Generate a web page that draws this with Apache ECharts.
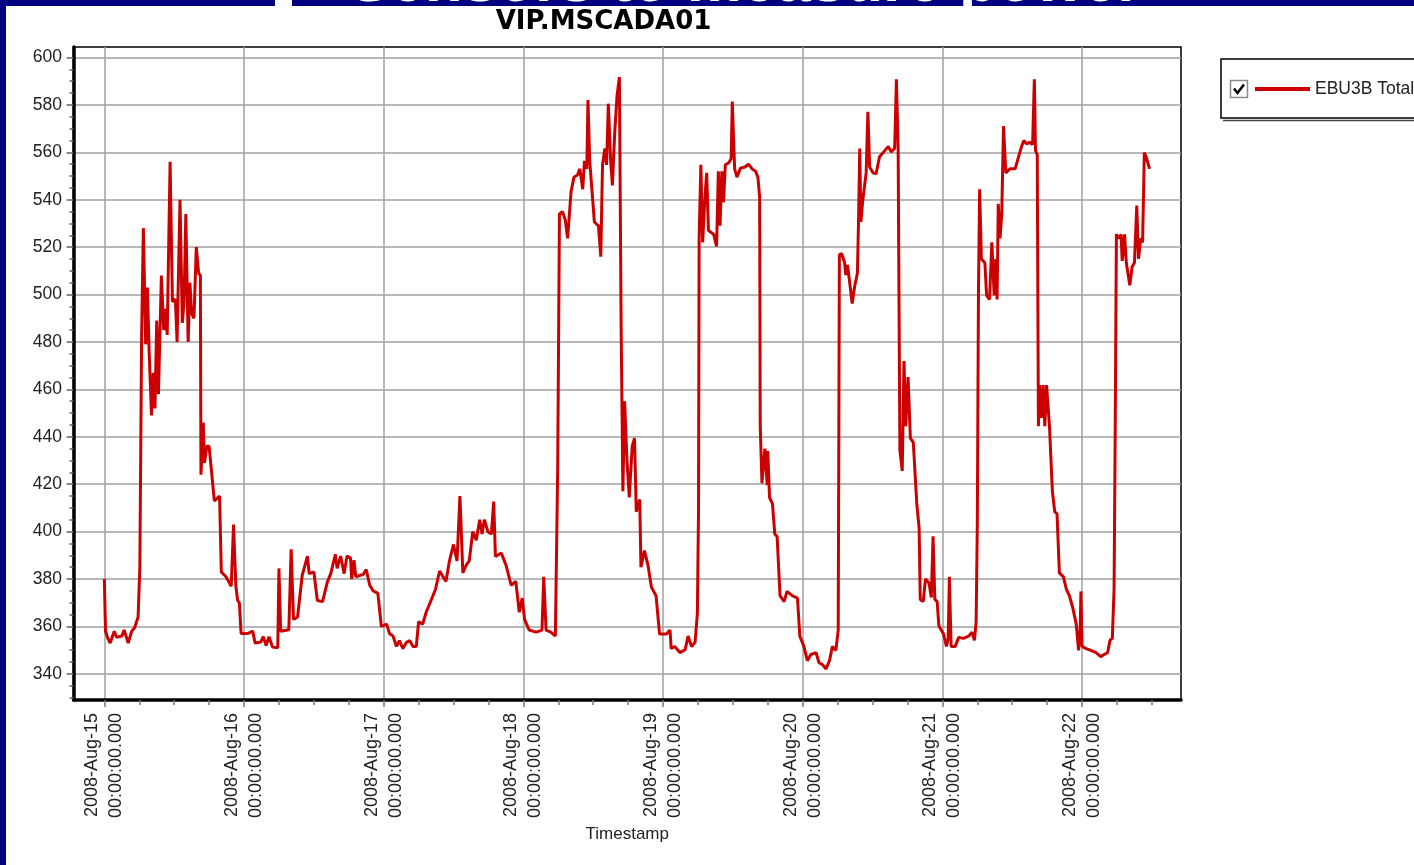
<!DOCTYPE html>
<html>
<head>
<meta charset="utf-8">
<script src="https://cdn.jsdelivr.net/npm/echarts@6/dist/echarts.min.js"></script>
<style>
  html, body { margin: 0; padding: 0; background: #ffffff; }
  #chart { width: 1414px; height: 865px; }
</style>
</head>
<body>
<div id="chart"></div>
<script>
// Chart texts
const SLIDE_HEADING = 'Sensors to measure power';
const CHART_TITLE = 'VIP.MSCADA01';
const SERIES_NAME = 'EBU3B Total';
const X_AXIS_NAME = 'Timestamp';
const DAY_LABELS = ['2008-Aug-15', '2008-Aug-16', '2008-Aug-17', '2008-Aug-18',
                    '2008-Aug-19', '2008-Aug-20', '2008-Aug-21', '2008-Aug-22'];
const TIME_LABEL = '00:00:00.000';
const Y_TICKS = [340, 360, 380, 400, 420, 440, 460, 480, 500, 520, 540, 560, 580, 600];

// Power readings per day: [hour of day, kW]
const aug15 = [[0,380],[0.2,358],[0.6,355],[1,353],[1.7,358],[2.1,355.5],[3,356],[3.4,358.5],[4.1,353],[4.7,358],[5.2,359.5],[5.8,364],[6.1,385],[6.4,482],[6.7,528],[7.1,479],[7.4,503],[7.7,476],[8.1,449],[8.4,467],[8.7,452],[9,489],[9.3,458],[9.8,508],[10.2,485],[10.5,494],[10.8,483],[11.3,556],[11.7,497],[12.2,498],[12.5,480],[13,540],[13.4,488],[13.7,497],[14,534],[14.4,480],[14.7,505],[15,492],[15.4,490],[15.8,520],[16.2,509],[16.5,508],[16.6,424],[17,446],[17.2,429],[17.6,436],[18,436],[18.9,413],[19.8,415],[20.1,383],[20.9,381],[21.8,377],[22.2,403],[22.6,377],[22.9,371],[23.2,370],[23.5,357]];
const aug16 = [[0.6,357],[1.5,358],[1.9,353],[2.9,353.5],[3.3,355.7],[3.8,352],[4.3,355.7],[4.9,351.3],[5.8,351],[6,384.5],[6.3,358],[7.7,358.6],[8.1,392.6],[8.5,363],[9.2,364],[10,381.6],[10.9,389.7],[11.2,382.3],[12,383],[12.6,371],[13.5,370.5],[14.3,378.6],[14.9,382.3],[15.7,390.4],[16,384.5],[16.6,389.7],[17.2,382.3],[17.7,389.7],[18.3,389],[18.5,380],[18.9,388],[19.2,381],[20.5,382],[21,384],[21.6,377.4],[22.2,375],[23,374],[23.6,360]];
const aug17 = [[0.5,361],[1,357],[1.6,356],[2.2,351.6],[2.7,354],[3.3,350.7],[3.9,353.3],[4.5,354],[5,351.6],[5.6,351.6],[6,362],[6.7,361],[7.3,366],[8.2,371.4],[8.9,375.7],[9.6,383.4],[10.2,381],[10.7,379],[11.3,387.7],[12,394.6],[12.6,387.7],[13.1,415],[13.6,382.6],[14.2,386],[14.7,387.7],[15.3,400],[15.9,396.4],[16.5,405],[16.9,399],[17.3,405],[17.9,400],[18.5,399],[18.9,412.7],[19.2,389.5],[20.2,391],[21,386],[21.9,377.4],[22.7,379],[23.3,366],[23.8,372]];
const aug18 = [[0.2,363],[1,358.5],[2.2,357.6],[3.2,358.5],[3.5,381],[3.9,358.5],[4.7,357.6],[5.5,356],[5.9,427],[6.2,534],[6.7,535],[7.2,531.5],[7.6,523.7],[8.2,543.5],[8.7,549.5],[9.3,550.4],[9.7,553],[10.2,544.4],[10.5,556.4],[10.9,553],[11.1,582],[11.4,556.4],[12.2,530.6],[12.9,529],[13.3,516],[13.6,554.7],[14,561.6],[14.3,554.7],[14.6,580.5],[15,556.4],[15.3,546],[15.7,568.5],[16.1,584],[16.5,591.7],[16.8,486],[17.1,417],[17.4,455],[17.8,430],[18.2,414.4],[18.7,436],[19.1,439.4],[19.4,408.4],[20,413.6],[20.2,385],[20.8,392],[21.4,386],[22,376.6],[22.8,373],[23.4,356.8]];
const aug19 = [[0.6,356.8],[1.2,358.5],[1.4,350.7],[2,351.6],[2.9,349],[3.8,350.2],[4.3,356],[4.9,351.6],[5.5,353.3],[5.9,365.4],[6.1,410],[6.2,523.7],[6.5,554.7],[6.8,522],[7.2,541],[7.5,551.3],[7.8,527],[8.7,525.4],[9.2,520.3],[9.5,552],[9.8,529],[10.1,552],[10.4,539],[10.7,554.7],[11.3,555.6],[11.7,557.3],[11.9,581.4],[12.3,553],[12.7,549.5],[13.3,553.3],[14.1,553.8],[14.7,555],[15.3,553],[15.9,552],[16.3,549.5],[16.6,541],[16.7,444.5],[17,420.4],[17.5,435],[17.9,419.6],[18,434],[18.3,414.4],[18.8,411.8],[19.2,399],[19.6,398],[20.1,373],[20.8,370.5],[21.3,374.8],[22.2,373],[23.1,372],[23.5,356]];
const aug20 = [[0.2,351.6],[0.8,345.6],[1.4,348.2],[2.3,349],[2.8,344.7],[3.4,343.9],[4,342.1],[4.6,345.6],[5.1,351.6],[5.7,349.9],[6.1,358.5],[6.3,516.8],[6.7,517.2],[7.2,513.4],[7.4,508.2],[7.7,512.5],[8,506.5],[8.5,496.2],[8.9,503.1],[9.4,509.1],[9.6,532.3],[9.8,561.6],[10,530.6],[10.3,539.2],[10.9,551.3],[11.2,577.1],[11.5,553.8],[12.1,551.3],[12.6,550.9],[13.2,558.1],[14.1,560.7],[14.7,562.4],[15.2,560.2],[15.8,561.6],[16.1,590.8],[16.4,561.6],[16.5,516.8],[16.7,434.2],[17.1,425.6],[17.4,472],[17.7,444.5],[18.1,465.2],[18.5,439.4],[19,437.7],[19.6,411.8],[20,401.5],[20.2,371.4],[20.7,370.5],[21.1,380],[21.7,378.3],[22.1,372.2],[22.4,398],[22.7,371.4],[23.1,370.5],[23.4,360.2]];
const aug21 = [[0.2,356.8],[0.7,351.6],[1,355],[1.2,381],[1.5,351.6],[2.2,351.6],[2.8,355.4],[3.6,355],[4.5,355.9],[5.1,357.6],[5.5,354.2],[5.8,361.9],[6,403],[6.2,501],[6.4,544.4],[6.7,515],[7.3,513.4],[7.6,499.6],[8.1,497.9],[8.5,522],[8.9,499.6],[9.2,515],[9.4,497.9],[9.6,538.3],[9.9,523.7],[10.2,534],[10.5,571],[10.9,551.3],[11.6,553],[12.5,553],[13,557.3],[13.6,562.4],[14,565],[14.4,563.6],[15,564.2],[15.5,563.3],[15.8,590.8],[16,560.7],[16.3,559],[16.5,444.5],[16.7,461.8],[17,448],[17.3,461.8],[17.6,444.5],[17.9,461.8],[18.4,444.5],[18.9,417],[19.3,408.4],[19.7,407.5],[20.1,382.6],[20.8,380.9],[21.3,375.7],[21.8,373.1],[22.4,367.9],[23,361],[23.4,349.9],[23.7,360.2],[23.8,374.8]];
const aug22 = [[0,351.6],[0.7,350.7],[1.5,349.9],[2.4,349],[3.2,347.3],[3.8,348.2],[4.4,349],[4.8,354.2],[5.2,355],[5.5,375.7],[5.7,444.5],[5.9,525.4],[6.4,523.7],[6.7,525.4],[6.9,514.2],[7.3,525.4],[7.6,513.4],[8.2,503.9],[8.6,511.7],[9,513.4],[9.4,537.5],[9.7,515.1],[10.1,523.7],[10.4,522],[10.7,559.9],[11,558.1],[11.3,557.3],[11.6,553]];

// x is measured in hours since 2008-Aug-15 00:00
const X_MIN = -5.3;
const X_MAX = 185;

const dailyReadings = [aug15, aug16, aug17, aug18, aug19, aug20, aug21, aug22];
const points = [];
dailyReadings.forEach((day, i) => {
  day.forEach(([h, v]) => points.push([i * 24 + h, v]));
});

// Tick positions: midnights (major) and every 6 hours (minor)
const dayTicks = DAY_LABELS.map((_, i) => i * 24);
const minorXTicks = [];
for (let i = 0; i < DAY_LABELS.length; i++) {
  [6, 12, 18].forEach(h => {
    const t = i * 24 + h;
    if (t < X_MAX) minorXTicks.push(t);
  });
}
const Y_MIN = 329, Y_MAX = 604.4;
const minorYTicks = [];
for (let v = 330; v < Y_MAX; v += 5) if (v % 20 !== 0) minorYTicks.push(v);

const NAVY = '#000080';
const LABEL_FONT = 'Liberation Sans, Arial, sans-serif';

const chart = echarts.init(document.getElementById('chart'), null, { renderer: 'canvas' });

chart.setOption({
  backgroundColor: '#ffffff',
  animation: false,
  title: {
    text: CHART_TITLE,
    left: 603.5,
    top: 9,
    padding: 0,
    textAlign: 'center',
    textStyle: { fontFamily: 'DejaVu Sans', fontWeight: 'bold', fontSize: 26, color: '#000' }
  },
  legend: {
    data: [SERIES_NAME],
    left: 1255,
    top: 80,
    padding: 0,
    icon: 'rect',
    itemWidth: 55,
    itemHeight: 4,
    selectedMode: false,
    textStyle: { fontFamily: LABEL_FONT, fontSize: 17.5, color: '#222' },
    z: 10
  },
  grid: {
    left: 73.5, top: 47, width: 1107.5, height: 653,
    show: true, borderColor: '#000', borderWidth: 1.5, backgroundColor: 'transparent'
  },
  xAxis: [{
    type: 'value',
    min: X_MIN, max: X_MAX,
    position: 'bottom',
    name: X_AXIS_NAME,
    nameLocation: 'middle',
    nameGap: 126,
    nameTextStyle: { fontFamily: LABEL_FONT, fontSize: 17, color: '#222', verticalAlign: 'top' },
    axisLine: { show: true, onZero: false, lineStyle: { color: '#000', width: 3.5 } },
    axisTick: { show: true, customValues: dayTicks, length: 7, lineStyle: { color: '#777', width: 1.5 } },
    axisLabel: {
      customValues: dayTicks,
      rotate: 90,
      margin: 13,
      fontFamily: LABEL_FONT,
      fontSize: 18,
      lineHeight: 24,
      color: '#222',
      hideOverlap: false,
      formatter: (val) => DAY_LABELS[Math.round(val / 24)] + '\n' + TIME_LABEL
    },
    splitLine: { show: true, lineStyle: { color: '#a0a0a0', width: 1.5 } }
  }, {
    type: 'value',
    min: X_MIN, max: X_MAX,
    position: 'bottom',
    axisLine: { show: false, onZero: false },
    axisLabel: { show: false },
    splitLine: { show: false },
    axisTick: { show: true, customValues: minorXTicks, length: 5, lineStyle: { color: '#777', width: 1.5 } }
  }],
  yAxis: [{
    type: 'value',
    min: Y_MIN, max: Y_MAX,
    position: 'left',
    axisLine: { show: true, onZero: false, lineStyle: { color: '#000', width: 3.5 } },
    axisTick: { show: true, customValues: Y_TICKS, length: 7, lineStyle: { color: '#666', width: 1.5 } },
    axisLabel: { customValues: Y_TICKS, margin: 11.5, fontFamily: LABEL_FONT, fontSize: 17.5, color: '#222' },
    splitLine: { show: true, lineStyle: { color: '#a0a0a0', width: 1.5 } }
  }, {
    type: 'value',
    min: Y_MIN, max: Y_MAX,
    position: 'left',
    axisLine: { show: false, onZero: false },
    axisLabel: { show: false },
    splitLine: { show: false },
    axisTick: { show: true, customValues: minorYTicks, length: 4, lineStyle: { color: '#666', width: 1.5 } }
  }],
  series: [{
    name: SERIES_NAME,
    type: 'line',
    xAxisIndex: 0,
    yAxisIndex: 0,
    data: points,
    showSymbol: false,
    symbol: 'none',
    color: '#cc0000',
    lineStyle: { color: '#cc0000', width: 3 },
    z: 5
  }],
  graphic: [
    // slide frame and the lower edge of the slide heading
    { type: 'rect', shape: { x: 0, y: 0, width: 6, height: 865 }, style: { fill: NAVY }, z: 1 },
    { type: 'rect', shape: { x: 0, y: 0, width: 1414, height: 6 }, style: { fill: NAVY }, z: 1 },
    { type: 'rect', shape: { x: 275, y: 0, width: 17, height: 6 }, style: { fill: '#ffffff' }, z: 1 },
    { type: 'text', x: 349, y: 14.5, z: 2,
      style: { text: SLIDE_HEADING, fill: '#ffffff', font: 'bold 62px Liberation Sans',
               textAlign: 'left', textVerticalAlign: 'bottom' } },
    // legend frame
    { type: 'rect', shape: { x: 1221, y: 59, width: 210, height: 59 }, style: { fill: '#fff', stroke: '#000', lineWidth: 1.5 }, z: 2 },
    { type: 'line', shape: { x1: 1223, y1: 120.5, x2: 1414, y2: 120.5 }, style: { stroke: '#444', lineWidth: 1.5 }, z: 2 },
    // legend check box
    { type: 'rect', shape: { x: 1230.5, y: 80.5, width: 17, height: 17 }, style: { fill: '#fff', stroke: '#8a8a8a', lineWidth: 1.5 }, z: 11 },
    { type: 'polyline', shape: { points: [[1234, 88.5], [1237.5, 93], [1244, 84.5]] }, style: { stroke: '#000', lineWidth: 2.5, fill: null }, z: 12 }
  ]
});
</script>
</body>
</html>
